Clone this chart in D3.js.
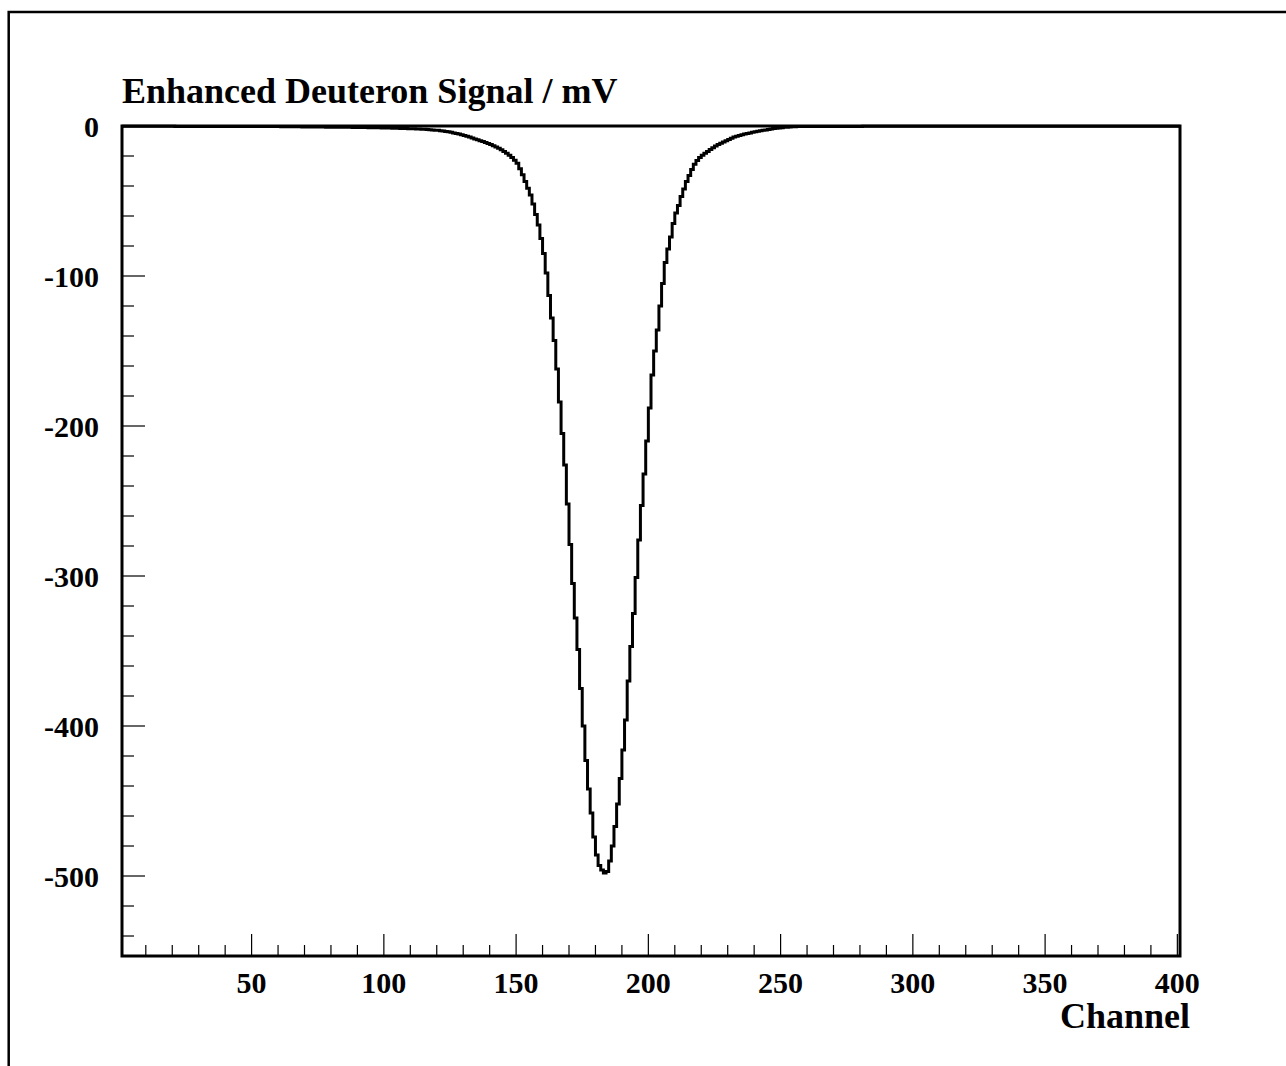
<!DOCTYPE html>
<html><head><meta charset="utf-8">
<script src="https://cdn.jsdelivr.net/npm/d3@7"></script>
<style>
body{margin:0;background:#fff}
svg{display:block}
text{font-family:"Liberation Serif","Times New Roman",serif;font-weight:bold;fill:#000}
</style>
</head><body>
<svg id="c" width="1286" height="1066"></svg>
<script>
// ---- data ----
const channels = d3.range(1, 401); // bin k spans [k, k+1]
const signal = [
-0.2,-0.2,-0.2,-0.2,-0.2,-0.2,-0.2,-0.2,-0.2,-0.2,
-0.2,-0.2,-0.2,-0.2,-0.2,-0.2,-0.2,-0.2,-0.2,-0.2,
-0.25,-0.25,-0.25,-0.25,-0.25,-0.25,-0.25,-0.25,-0.25,-0.25,
-0.3,-0.3,-0.3,-0.3,-0.3,-0.3,-0.3,-0.3,-0.3,-0.3,
-0.35,-0.35,-0.35,-0.35,-0.35,-0.35,-0.35,-0.35,-0.35,-0.35,
-0.4,-0.4,-0.4,-0.4,-0.4,-0.4,-0.4,-0.4,-0.4,-0.4,
-0.45,-0.45,-0.5,-0.5,-0.5,-0.55,-0.55,-0.55,-0.6,-0.6,
-0.6,-0.65,-0.65,-0.65,-0.7,-0.7,-0.7,-0.75,-0.75,-0.8,
-0.8,-0.8,-0.85,-0.85,-0.85,-0.9,-0.9,-0.95,-0.95,-1.0,
-1.0,-1.05,-1.05,-1.1,-1.1,-1.15,-1.2,-1.2,-1.25,-1.3,
-1.35,-1.4,-1.45,-1.5,-1.55,-1.6,-1.65,-1.7,-1.75,-1.8,
-1.9,-1.95,-2.0,-2.1,-2.2,-2.3,-2.45,-2.6,-2.75,-2.9,
-3.1,-3.3,-3.6,-3.9,-4.2,-4.6,-5.0,-5.4,-5.8,-6.3,
-6.8,-7.4,-8.0,-8.6,-9.2,-9.8,-10.4,-11.0,-11.7,-12.4,
-13.2,-14.0,-14.9,-15.9,-17.0,-18.2,-19.5,-21.0,-22.8,-24.8,
-28.5,-32.5,-37,-41.5,-46,-52,-59,-66,-75,-85,
-98,-113,-128,-143,-162,-184,-205,-226,-252,-279,
-305,-328,-349,-375,-400,-423,-442,-458,-474,-486,
-493,-496,-498,-497,-490,-480,-467,-452,-435,-416,
-396,-370,-347,-325,-301,-276,-253,-232,-210,-188,
-166,-150,-136,-120,-105,-91,-82,-74,-65,-58,
-53,-47,-42,-37,-33,-29,-25.5,-23,-21,-19.5,
-18.2,-17,-15.7,-14.5,-13.4,-12.4,-11.5,-10.6,-9.8,-9.0,
-8.2,-7.4,-6.8,-6.3,-5.8,-5.4,-5.0,-4.6,-4.2,-3.8,
-3.5,-3.2,-2.9,-2.6,-2.3,-2.0,-1.7,-1.5,-1.3,-1.1,
-0.9,-0.75,-0.6,-0.5,-0.45,-0.4,-0.4,-0.35,-0.35,-0.35,
-0.3,-0.3,-0.3,-0.3,-0.3,-0.3,-0.3,-0.3,-0.3,-0.3,
-0.3,-0.3,-0.3,-0.25,-0.25,-0.25,-0.25,-0.25,-0.25,-0.25,
-0.2,-0.2,-0.2,-0.2,-0.2,-0.2,-0.2,-0.2,-0.2,-0.2,
-0.2,-0.2,-0.2,-0.2,-0.2,-0.2,-0.2,-0.2,-0.2,-0.2,
-0.15,-0.15,-0.15,-0.15,-0.15,-0.15,-0.15,-0.15,-0.15,-0.15,
-0.15,-0.15,-0.15,-0.15,-0.15,-0.15,-0.15,-0.15,-0.15,-0.15,
-0.15,-0.15,-0.15,-0.15,-0.15,-0.15,-0.15,-0.15,-0.15,-0.15,
-0.15,-0.15,-0.15,-0.15,-0.15,-0.15,-0.15,-0.15,-0.15,-0.15,
-0.15,-0.15,-0.15,-0.15,-0.15,-0.15,-0.15,-0.15,-0.15,-0.15,
-0.15,-0.15,-0.15,-0.15,-0.15,-0.15,-0.15,-0.15,-0.15,-0.15,
-0.15,-0.15,-0.15,-0.15,-0.15,-0.15,-0.15,-0.15,-0.15,-0.15,
-0.15,-0.15,-0.15,-0.15,-0.15,-0.15,-0.15,-0.15,-0.15,-0.15,
-0.15,-0.15,-0.15,-0.15,-0.15,-0.15,-0.15,-0.15,-0.15,-0.15,
-0.15,-0.15,-0.15,-0.15,-0.15,-0.15,-0.15,-0.15,-0.15,-0.15
];
const xMajorTicks = [50,100,150,200,250,300,350,400];
const xMinorTicks = d3.range(10, 401, 10).filter(v => v % 50 !== 0);
const yMajorTicks = [0,-100,-200,-300,-400,-500];
const yMinorTicks = d3.range(-20, -553, -20).filter(v => v % 100 !== 0);
const titleText = "Enhanced Deuteron Signal / mV";
const xTitle = "Channel";

// ---- layout ----
const L = 122, R = 1180, T = 126, B = 956;
const x = d3.scaleLinear().domain([1, 401]).range([L, R]);
const y = d3.scaleLinear().domain([-553.33, 0]).range([B, T]);

const svg = d3.select("#c");

// canvas border
svg.append("rect").attr("x", 8.7).attr("y", 12).attr("width", 1400).attr("height", 1200)
  .attr("fill", "none").attr("stroke", "#000").attr("stroke-width", 2.5);

// histogram (step outline)
const pts = [];
channels.forEach((c, i) => { pts.push([c, signal[i]]); pts.push([c + 1, signal[i]]); });
const line = d3.line().x(d => x(d[0])).y(d => y(d[1]));
svg.append("path").attr("d", line(pts)).attr("fill", "none")
  .attr("stroke", "#000").attr("stroke-width", 3).attr("stroke-linejoin", "miter");

// ticks
const g = svg.append("g").attr("stroke", "#000").attr("stroke-width", 1.2);
xMajorTicks.forEach(v => g.append("line").attr("x1", x(v)).attr("x2", x(v)).attr("y1", B).attr("y2", B - 22));
xMinorTicks.forEach(v => g.append("line").attr("x1", x(v)).attr("x2", x(v)).attr("y1", B).attr("y2", B - 11));
yMajorTicks.forEach(v => g.append("line").attr("x1", L).attr("x2", L + 23).attr("y1", y(v)).attr("y2", y(v)));
yMinorTicks.forEach(v => g.append("line").attr("x1", L).attr("x2", L + 12).attr("y1", y(v)).attr("y2", y(v)));

// frame
svg.append("rect").attr("x", L).attr("y", T).attr("width", R - L).attr("height", B - T)
  .attr("fill", "none").attr("stroke", "#000").attr("stroke-width", 3);

// tick labels
svg.append("g").selectAll("text").data(xMajorTicks).join("text")
  .attr("x", d => x(d)).attr("y", 993).attr("text-anchor", "middle")
  .style("font-size", "30px").text(d => d);
svg.append("g").selectAll("text").data(yMajorTicks).join("text")
  .attr("x", 99).attr("y", d => y(d) + 10.5).attr("text-anchor", "end")
  .style("font-size", "30px").text(d => d);

// titles
svg.append("text").attr("x", 122).attr("y", 103).style("font-size", "36px").text(titleText);
svg.append("text").attr("x", 1190).attr("y", 1028).attr("text-anchor", "end")
  .style("font-size", "36px").text(xTitle);
</script>
</body></html>
